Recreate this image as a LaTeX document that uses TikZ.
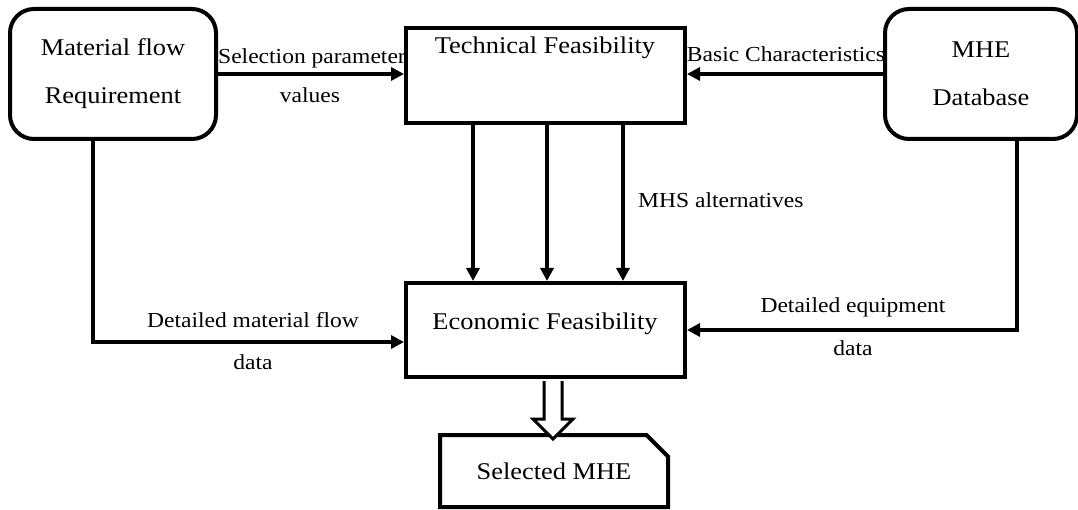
\documentclass[tikz,border=0pt]{standalone}
\usepackage{fontspec}
\setmainfont[FakeStretch=1.1]{Liberation Serif}
\usetikzlibrary{arrows.meta,shapes.misc}
\begin{document}
\begin{tikzpicture}[x=1pt,y=-1pt,
  boxline/.style={draw=black,line width=4pt,fill=white,inner sep=0pt},
  roundbox/.style={boxline,rounded corners=24pt},
  nodetext/.style={font=\fontsize{24}{48}\selectfont,align=center,inner sep=0pt},
  lbl/.style={font=\fontsize{21.4}{26}\selectfont,inner sep=0pt},
  arr/.style={line width=4pt,-{Triangle[length=13pt,width=13pt]}},
  hollow/.style={draw=black,line width=3pt,fill=white,line join=miter}]
\useasboundingbox (0,0) rectangle (1078,510);

% labels (drawn first so boxes overlap them)
\node[lbl,anchor=west] (lsel) at (218,58) {Selection parameter};
\node[lbl] (lval) at (310,95) {values};
\node[lbl] (lbasic) at (786,54) {Basic Characteristics};
\node[lbl,anchor=west] (lmhs) at (638,200) {MHS alternatives};
\node[lbl] (ldmf) at (253,320) {Detailed material flow};
\node[lbl] (ldata1) at (253,362) {data};
\node[lbl] (ldeq) at (853,307) {Detailed equipment};
\node[lbl] (ldata2) at (853,348) {data};

% boxes
\node[roundbox,minimum width=206pt,minimum height=130pt,nodetext] (mfr) at (113,74) {Material flow\\Requirement};
\node[roundbox,minimum width=192pt,minimum height=130pt,nodetext] (mhe) at (981,74) {MHE\\Database};
\node[boxline,minimum width=279pt,minimum height=95pt] (tech) at (545.5,75.5) {};
\node[nodetext] (techtxt) at (545,48) {Technical Feasibility};
\node[boxline,minimum width=279pt,minimum height=94pt] (econ) at (545.5,330) {};
\node[nodetext] (econtxt) at (545,324) {Economic Feasibility};
\node[draw=black,line width=4pt,fill=white,chamfered rectangle,chamfered rectangle corners=north east,
      chamfered rectangle xsep=13pt,chamfered rectangle ysep=13pt,
      minimum width=228pt,minimum height=72pt,inner sep=0pt,nodetext] (sel) at (554,471) {Selected MHE};

% connectors
\draw[arr] (mfr.east) -- (mfr.east -| tech.west);
\draw[arr] (mhe.west) -- (mhe.west -| tech.east);
\draw[arr] ([xshift=-72.5pt]tech.south) -- ([xshift=-72.5pt]econ.north);
\draw[arr] ([xshift=1.5pt]tech.south) -- ([xshift=1.5pt]econ.north);
\draw[arr] ([xshift=77.5pt]tech.south) -- ([xshift=77.5pt]econ.north);
\draw[arr] ([xshift=-20pt]mfr.south) |- ([yshift=-12pt]econ.west);
\draw[arr] ([xshift=36pt]mhe.south) |- (econ.east);
\draw[hollow] ([xshift=-1.5pt,yshift=-2pt]econ.south) -- ++(0,38) -- ++(-11,0) -- ++(20,20) -- ++(20,-20) -- ++(-11,0) -- ++(0,-38);
\end{tikzpicture}
\end{document}
